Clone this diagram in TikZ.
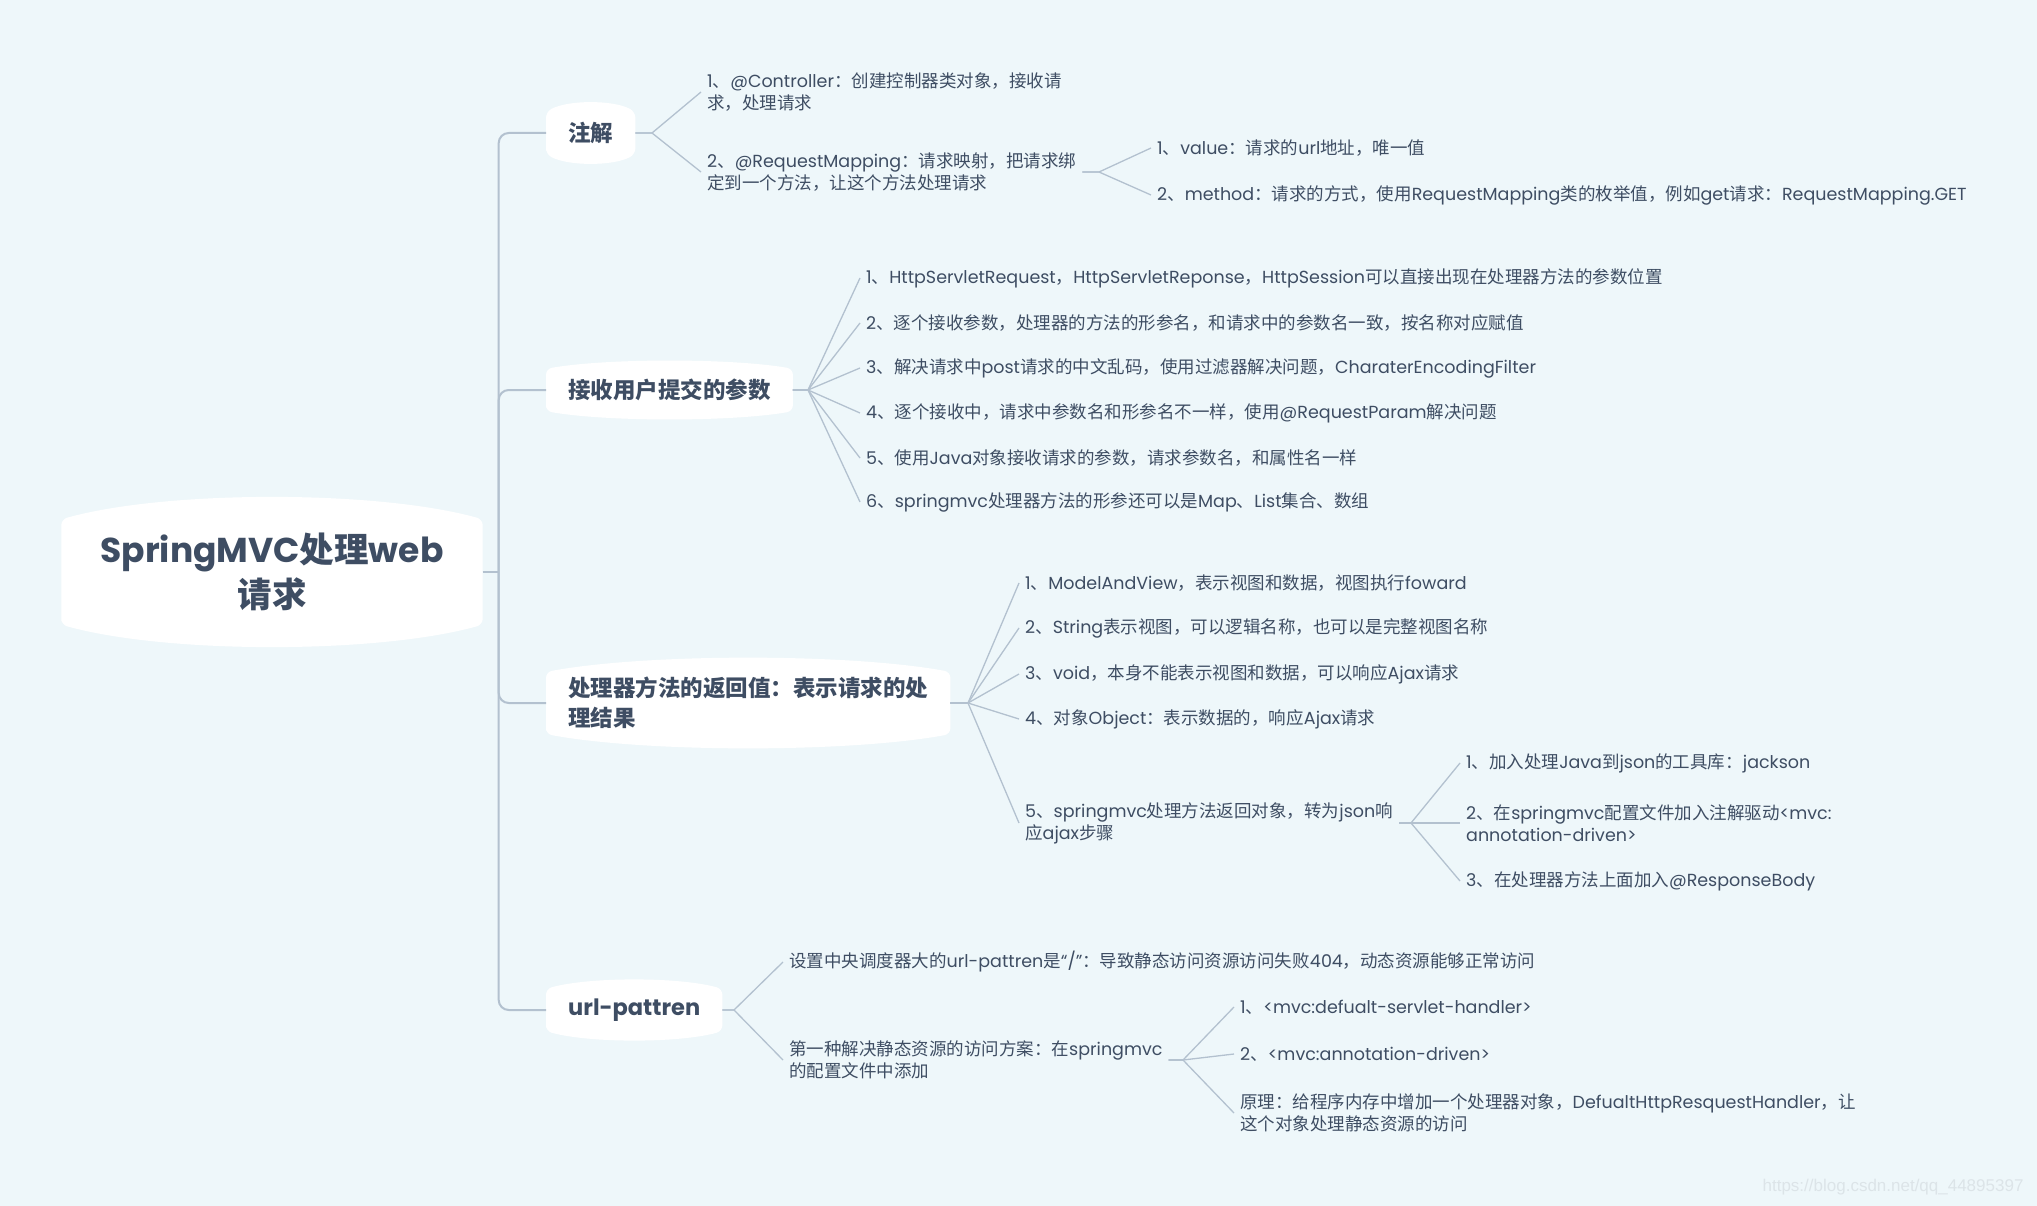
\documentclass[tikz,border=0pt]{standalone}
\usepackage{fontspec}
\setmainfont{Poppins}
\newfontfamily\cjkfont{Noto Sans CJK SC}
\newfontfamily\markfont{Liberation Sans}
\usetikzlibrary{calc}

% CJK runs switch to the CJK font
\XeTeXinterchartokenstate=1
\newXeTeXintercharclass\cjkclass
\makeatletter
\def\cjkrange#1#2{\count@=#1\relax
  \loop\XeTeXcharclass\count@=\cjkclass
  \ifnum\count@<#2\advance\count@\@ne\repeat}
\cjkrange{"3000}{"303F}
\cjkrange{"4E00}{"9FFF}
\cjkrange{"FF00}{"FFEF}
\makeatother
\XeTeXinterchartoks 0 \cjkclass={\cjkfont}
\XeTeXinterchartoks 4095 \cjkclass={\cjkfont}
\XeTeXinterchartoks \cjkclass 0={\rmfamily}
\XeTeXinterchartoks \cjkclass 4095={\rmfamily}

\definecolor{bgc}{HTML}{EEF7FA}
\definecolor{inkc}{HTML}{3E4D63}
\definecolor{linec}{HTML}{B3C1CF}
\definecolor{markc}{HTML}{DCE4E8}

\pgfdeclarelayer{bg}
\pgfsetlayers{bg,main}

\tikzset{
  rootnode/.style={align=center, font=\bfseries\fontsize{34.5}{45}\selectfont, text=inkc,
    minimum width=421pt, minimum height=105pt, inner sep=0pt},
  topic/.style={anchor=west, align=left, font=\bfseries\fontsize{22.5}{30}\selectfont, text=inkc,
    inner xsep=22pt, inner ysep=5pt, minimum height=42pt},
  leaf/.style={anchor=west, align=left, font=\fontsize{17.5}{22}\selectfont, text=inkc,
    inner xsep=6pt, inner ysep=2pt},
  trunk/.style={draw=linec, line width=2pt, rounded corners=10pt},
  twig/.style={draw=linec, line width=1.3pt},
}

% white bubble behind a node: #1 node, #2 bulge
\newcommand\bubble[2]{%
  \fill[white, rounded corners=6pt] (#1.south west) -- (#1.north west)
    .. controls ($(#1.north west)!0.25!(#1.north east)+(0,-#2*4/3)$) and ($(#1.north west)!0.75!(#1.north east)+(0,-#2*4/3)$) .. (#1.north east)
    -- (#1.south east)
    .. controls ($(#1.south west)!0.75!(#1.south east)+(0,#2*4/3)$) and ($(#1.south west)!0.25!(#1.south east)+(0,#2*4/3)$) .. (#1.south west) -- cycle;}

\begin{document}
\begin{tikzpicture}[x=1pt,y=-1pt]
\useasboundingbox (0,0) rectangle (2037,1206);
\begin{pgfonlayer}{bg}
  \fill[bgc] (0,0) rectangle (2037,1206);
\end{pgfonlayer}

% root and topics
\node[rootnode] (root) at (272,572) {SpringMVC处理web\\请求};
\coordinate (hub) at ([xshift=16pt]root.east);
\node[topic] (zj) at (546,133) {注解};
\node[topic] (js) at (546,390) {接收用户提交的参数};
\node[topic] (cl) at (546,703) {处理器方法的返回值：表示请求的处\\理结果};
\node[topic] (up) at (546,1010) {url-pattren};

% fork points
\coordinate (fzj) at (652,133);
\coordinate (fjs) at (808,390);
\coordinate (fcl) at (968,703);
\coordinate (fup) at (734,1010);

% 注解
\node[leaf] (a1) at (701,92) {1、@Controller：创建控制器类对象，接收请\\求，处理请求};
\node[leaf] (a2) at (701,172) {2、@RequestMapping：请求映射，把请求绑\\定到一个方法，让这个方法处理请求};
\coordinate (fa2) at (1099,172);
\node[leaf] (a21) at (1151,148) {1、value：请求的url地址，唯一值};
\node[leaf] (a22) at (1151,195) {2、method：请求的方式，使用RequestMapping类的枚举值，例如get请求：RequestMapping.GET};

% 接收用户提交的参数
\node[leaf] (b1) at (860,278) {1、HttpServletRequest，HttpServletReponse，HttpSession可以直接出现在处理器方法的参数位置};
\node[leaf] (b2) at (860,323) {2、逐个接收参数，处理器的方法的形参名，和请求中的参数名一致，按名称对应赋值};
\node[leaf] (b3) at (860,368) {3、解决请求中post请求的中文乱码，使用过滤器解决问题，CharaterEncodingFilter};
\node[leaf] (b4) at (860,413) {4、逐个接收中，请求中参数名和形参名不一样，使用@RequestParam解决问题};
\node[leaf] (b5) at (860,458) {5、使用Java对象接收请求的参数，请求参数名，和属性名一样};
\node[leaf] (b6) at (860,502) {6、springmvc处理器方法的形参还可以是Map、List集合、数组};

% 返回值
\node[leaf] (c1) at (1019,583) {1、ModelAndView，表示视图和数据，视图执行foward};
\node[leaf] (c2) at (1019,628) {2、String表示视图，可以逻辑名称，也可以是完整视图名称};
\node[leaf] (c3) at (1019,674) {3、void，本身不能表示视图和数据，可以响应Ajax请求};
\node[leaf] (c4) at (1019,719) {4、对象Object：表示数据的，响应Ajax请求};
\node[leaf] (c5) at (1019,823) {5、springmvc处理方法返回对象，转为json响\\应ajax步骤};
\coordinate (fc5) at (1411,823);
\node[leaf] (c51) at (1460,763) {1、加入处理Java到json的工具库：jackson};
\node[leaf] (c52) at (1460,823) {2、在springmvc配置文件加入注解驱动<mvc:\\annotation-driven>};
\node[leaf] (c53) at (1460,881) {3、在处理器方法上面加入@ResponseBody};

% url-pattren
\node[leaf] (d1) at (783,962) {设置中央调度器大的url-pattren是“/”：导致静态访问资源访问失败404，动态资源能够正常访问};
\node[leaf] (d2) at (783,1060) {第一种解决静态资源的访问方案：在springmvc\\的配置文件中添加};
\coordinate (fd2) at (1183,1060);
\node[leaf] (d21) at (1234,1007) {1、<mvc:defualt-servlet-handler>};
\node[leaf] (d22) at (1234,1054) {2、<mvc:annotation-driven>};
\node[leaf] (d23) at (1234,1113) {原理：给程序内存中增加一个处理器对象，DefualtHttpResquestHandler，让\\这个对象处理静态资源的访问};

\node[anchor=east, text=markc, font=\markfont\fontsize{17}{20}\selectfont] (mark) at (2027,1187) {https://blog.csdn.net/qq\_44895397};

\begin{pgfonlayer}{bg}
  \bubble{root}{22}
  \bubble{zj}{9}
  \bubble{js}{8}
  \bubble{cl}{14}
  \bubble{up}{9}
  \draw[trunk] (root.east) -- (hub);
  \foreach \t in {zj,js,cl,up}
    \draw[trunk] (hub) |- (\t.west);
  \foreach \c in {a1,a2} \draw[twig] (zj.east) -- (fzj) -- (\c.west);
  \foreach \c in {a21,a22} \draw[twig] (a2.east) -- (fa2) -- (\c.west);
  \foreach \c in {b1,b2,b3,b4,b5,b6} \draw[twig] (js.east) -- (fjs) -- (\c.west);
  \foreach \c in {c1,c2,c3,c4,c5} \draw[twig] (cl.east) -- (fcl) -- (\c.west);
  \foreach \c in {c51,c52,c53} \draw[twig] (c5.east) -- (fc5) -- (\c.west);
  \foreach \c in {d1,d2} \draw[twig] (up.east) -- (fup) -- (\c.west);
  \foreach \c in {d21,d22,d23} \draw[twig] (d2.east) -- (fd2) -- (\c.west);
\end{pgfonlayer}
\end{tikzpicture}
\end{document}
